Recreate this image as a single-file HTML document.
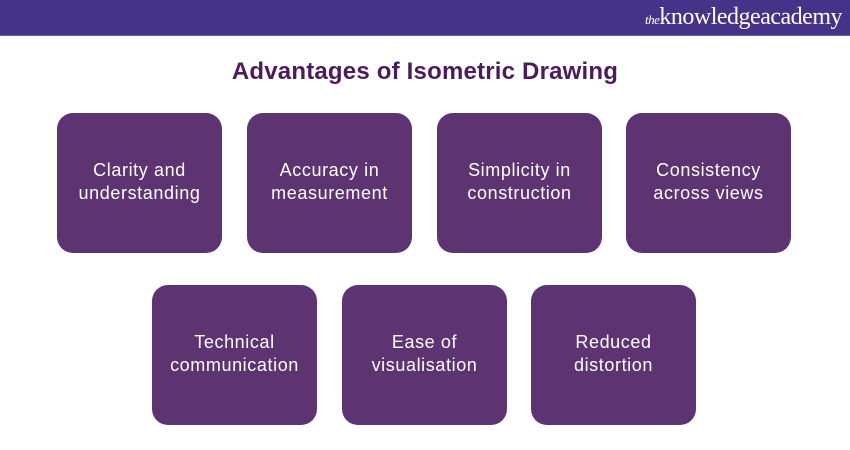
<!DOCTYPE html>
<html><head><meta charset="utf-8"><style>
*{margin:0;padding:0;box-sizing:border-box}
body{width:850px;height:450px;background:#fff;position:relative;overflow:hidden;font-family:"Liberation Sans",sans-serif}
.hdr{position:absolute;left:0;top:0;width:850px;height:36px;background:#45338a;border-bottom:1px solid #6a5cb0}
.logo{position:absolute;right:8px;top:4px;color:#fff;font-family:"Liberation Serif",serif;font-size:24px;letter-spacing:-0.5px}
.logo i{font-size:13px}
.title{position:absolute;left:0;width:850px;top:58px;text-align:center;color:#4b1b5c;font-weight:bold;font-size:24px;letter-spacing:0.2px}
.b{position:absolute;width:165px;height:140px;background:#5e3372;border-radius:16px;color:#fff;font-size:18px;line-height:23px;letter-spacing:0.6px;display:flex;align-items:center;justify-content:center;text-align:center;padding-bottom:2px}
</style></head><body>
<div class="hdr"><div class="logo"><i>the</i>knowledgeacademy</div></div>
<div class="title">Advantages of Isometric Drawing</div>
<div class="b" style="left:57px;top:113px">Clarity and<br>understanding</div>
<div class="b" style="left:247px;top:113px">Accuracy in<br>measurement</div>
<div class="b" style="left:437px;top:113px">Simplicity in<br>construction</div>
<div class="b" style="left:626px;top:113px">Consistency<br>across views</div>
<div class="b" style="left:152px;top:285px">Technical<br>communication</div>
<div class="b" style="left:342px;top:285px">Ease of<br>visualisation</div>
<div class="b" style="left:531px;top:285px">Reduced<br>distortion</div>
</body></html>
